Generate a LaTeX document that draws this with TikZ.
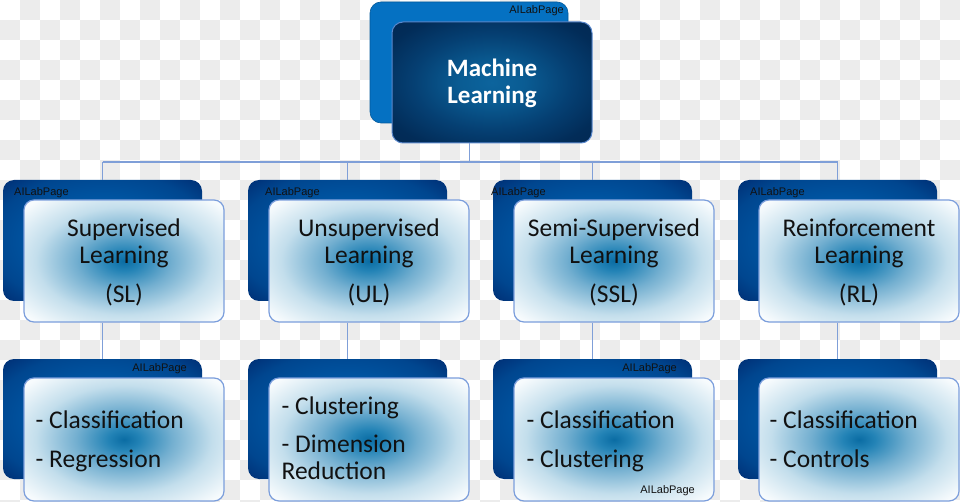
\documentclass[tikz,border=0pt]{standalone}
\usepackage{fontspec}
\setmainfont{Carlito}
\newfontfamily\arialf{Liberation Sans}
\definecolor{chk}{HTML}{ECECEC}
\definecolor{conncol}{HTML}{7F9FD8}
\definecolor{frontborder}{HTML}{7B9EDC}
\definecolor{mlborder}{HTML}{5A88CC}
\definecolor{mlback}{HTML}{0571C2}
\definecolor{txtcol}{HTML}{111111}
\definecolor{fcA}{HTML}{0A6CA3}
\definecolor{fcB}{HTML}{2383B6}
\definecolor{fcC}{HTML}{73AFD0}
\definecolor{fcD}{HTML}{C3DEEC}
\definecolor{fcE}{HTML}{F7FBFD}
\definecolor{bcA}{HTML}{0063B1}
\definecolor{bcB}{HTML}{0058A6}
\definecolor{bcC}{HTML}{00468F}
\definecolor{bcD}{HTML}{003076}
\definecolor{bcE}{HTML}{001F5C}
\definecolor{mcA}{HTML}{0C649D}
\definecolor{mcB}{HTML}{0A5C93}
\definecolor{mcC}{HTML}{053F72}
\definecolor{mcD}{HTML}{022C58}
\definecolor{mcE}{HTML}{01244B}
\pgfdeclareradialshading{frontshade}{\pgfpoint{0bp}{0bp}}{color(0bp)=(fcA); color(4bp)=(fcB); color(12bp)=(fcC); color(22bp)=(fcD); color(33bp)=(fcE); color(50bp)=(fcE)}
\pgfdeclareradialshading{backshade}{\pgfpoint{0bp}{0bp}}{color(0bp)=(bcA); color(15bp)=(bcB); color(28bp)=(bcC); color(35bp)=(bcD); color(50bp)=(bcE)}
\pgfdeclareradialshading{mlshade}{\pgfpoint{0bp}{0bp}}{color(0bp)=(mcA); color(8bp)=(mcB); color(20bp)=(mcC); color(30bp)=(mcD); color(45bp)=(mcE); color(50bp)=(mcE)}
\tikzset{
  frontbox/.style={draw=frontborder, line width=1.2pt, rounded corners=10pt, shade, shading=frontshade, minimum width=200pt, minimum height=122pt, inner sep=0pt},
  backbox/.style={rounded corners=11pt, shade, shading=backshade, minimum width=199pt, minimum height=121pt, inner sep=0pt},
  mlfront/.style={draw=mlborder, line width=1pt, rounded corners=11pt, shade, shading=mlshade, minimum width=200pt, minimum height=121pt, inner sep=0pt},
  mltxt/.style={text=white, font=\fontsize{25}{27}\selectfont\bfseries, align=center},
  mlbackbox/.style={fill=mlback, draw=mlback!80!black, line width=0.6pt, rounded corners=11pt, minimum width=198pt, minimum height=121pt, inner sep=0pt},
  headtxt/.style={text=txtcol, font=\fontsize{25.5}{27}\selectfont, align=center},
  itemtxt/.style={text=txtcol, font=\fontsize{25.5}{27}\selectfont, align=left, inner sep=0pt, anchor=west},
  wmark/.style={text=txtcol, font=\arialf\fontsize{11}{13}\selectfont, inner sep=0pt},
  conn/.style={draw=conncol, line width=1.2pt}
}
\begin{document}
\begin{tikzpicture}[x=1pt,y=-1pt]
\useasboundingbox (0,0) rectangle (960,502);
\clip (0,0) rectangle (960,502);
\fill[white] (0,0) rectangle (960,502);
\foreach \j in {0,2,...,24}{\foreach \i in {1,3,...,47}{\fill[chk] (\i*20,\j*20) rectangle ++(20,20);}}
\foreach \j in {1,3,...,25}{\foreach \i in {0,2,...,46}{\fill[chk] (\i*20,\j*20) rectangle ++(20,20);}}

% top
\node[mlbackbox] (mlb) at (469,62.5) {};
\node[wmark, anchor=east] (wm0) at (564,11) {AILabPage};
\node[mlfront] (ml) at (492,82.5) {};
\node[mltxt] (mlt) at ([yshift=-1pt]ml.center) {Machine\\Learning};

\coordinate (hub) at (469.5,162);

% level 2 and 3 back boxes
\foreach \k in {1,2,3,4}{
  \node[backbox] (b\k) at ({102.5+245*(\k-1)},240.5) {};
  \node[backbox, minimum height=120pt] (c\k) at ({102.5+245*(\k-1)},419) {};
}
\node[wmark, anchor=west] (wl1) at (14,193) {AILabPage};
\node[wmark, anchor=west] (wl2) at (265,193) {AILabPage};
\node[wmark, anchor=west] (wl3) at (491,193) {AILabPage};
\node[wmark, anchor=west] (wl4) at (750,193) {AILabPage};
\node[wmark, anchor=east] (wc1) at (187,369) {AILabPage};
\node[wmark, anchor=east] (wc3) at (677,369) {AILabPage};

% connectors
\draw[conn] (ml.south -| hub) -- (hub);
\draw[conn] (b1.north |- hub) -- (b4.north |- hub);
\foreach \k in {1,2,3,4}{\draw[conn] (b\k.north |- hub) -- (b\k.north);}

% level 2 front boxes
\node[frontbox] (f1) at (124,261) {};
\node[frontbox] (f2) at (369,261) {};
\node[frontbox] (f3) at (614,261) {};
\node[frontbox] (f4) at (859,261) {};
\node[headtxt] (t1) at ([yshift=-1pt]f1.center) {Supervised\\Learning\\[12pt](SL)};
\node[headtxt] (t2) at ([yshift=-1pt]f2.center) {Unsupervised\\Learning\\[12pt](UL)};
\node[headtxt] (t3) at ([yshift=-1pt]f3.center) {Semi-Supervised\\Learning\\[12pt](SSL)};
\node[headtxt] (t4) at ([yshift=-1pt]f4.center) {Reinforcement\\Learning\\[12pt](RL)};

\foreach \k in {1,2,3,4}{\draw[conn] (b\k.north |- f\k.south) -- (c\k.north);}

% level 3 front boxes
\node[frontbox, minimum height=123pt] (g1) at (124,439.5) {};
\node[frontbox, minimum height=123pt] (g2) at (369,439.5) {};
\node[frontbox, minimum height=123pt] (g3) at (614,439.5) {};
\node[frontbox, minimum height=123pt] (g4) at (859,439.5) {};
\node[itemtxt] (s1) at ([xshift=12pt,yshift=-2pt]g1.west) {- Classification\\[12pt]- Regression};
\node[itemtxt] (s2) at ([xshift=13pt,yshift=1pt]g2.west) {- Clustering\\[11pt]- Dimension\\Reduction};
\node[itemtxt] (s3) at ([xshift=13pt,yshift=-2pt]g3.west) {- Classification\\[12pt]- Clustering};
\node[itemtxt] (s4) at ([xshift=11pt,yshift=0pt]g4.west) {- Classification\\[12pt]- Controls};
\node[wmark, anchor=east] (wg3) at (695,491) {AILabPage};
\end{tikzpicture}
\end{document}
